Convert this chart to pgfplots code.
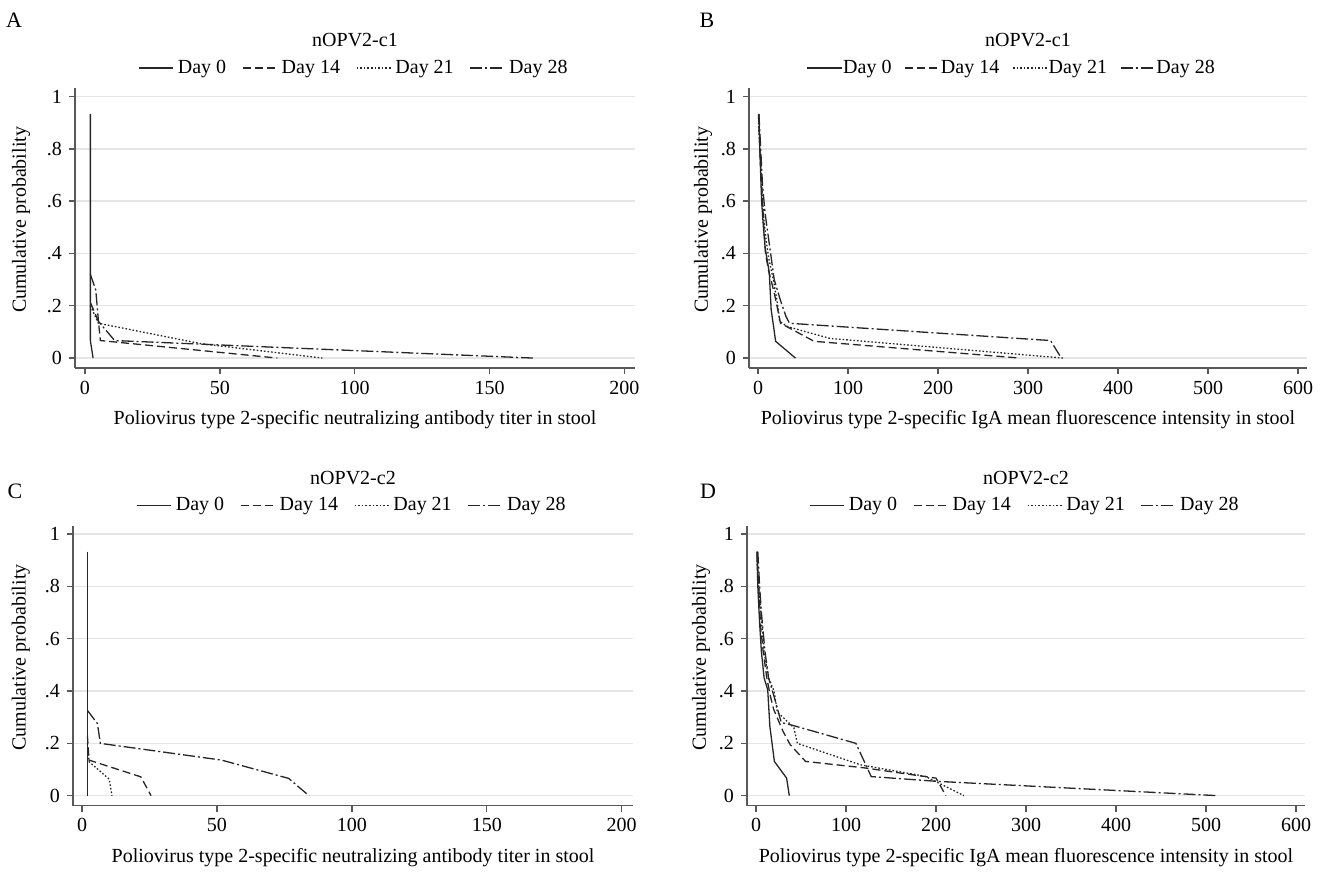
\documentclass[border=0pt]{standalone}
\usepackage{fontspec}
\setmainfont{Liberation Serif}
\usepackage{pgfplots}
\pgfplotsset{compat=1.18}

\pgfplotsset{
  panel/.style={
    scale only axis, width=280pt, height=140pt,
    anchor=south west,
    axis x line*=bottom, axis y line*=left,
    x axis line style={-, draw=black!65, line width=0.8pt},
    y axis line style={-, draw=black!65, line width=0.8pt},
    xtick pos=bottom, ytick pos=left,
    tick align=outside, major tick length=3pt,
    tick style={draw=black!65, line width=0.7pt},
    ymin=-0.038, ymax=1.0325,
    ytick={0,0.2,0.4,0.6,0.8,1}, yticklabels={0,.2,.4,.6,.8,1},
    ymajorgrids, grid style={black!10, line width=0.7pt},
    ticklabel style={font=\fontsize{10}{12}\selectfont},
    label style={font=\fontsize{10}{12}\selectfont},
    title style={font=\fontsize{10}{12}\selectfont, at={(axis description cs:0.5,1.128)}, anchor=center},
    xlabel style={at={(axis description cs:0.5,-0.186)}, anchor=center},
    ylabel={Cumulative probability},
    legend columns=4,
    legend style={draw=none, fill=none, font=\fontsize{10}{12}\selectfont,
      at={(0.5,1.071)}, anchor=center,
      /tikz/every even column/.append style={column sep=6pt}},
    every axis plot/.append style={line width=0.65pt, draw=black!85},
  },
  d0/.style={solid},
  d14/.style={dash pattern=on 4pt off 2pt},
  d21/.style={dash pattern=on 0.8pt off 1pt},
  d28/.style={dash pattern=on 6pt off 1.5pt on 1pt off 1.5pt},
  nt/.style={xmin=-3.7, xmax=203.9, xtick={0,50,100,150,200}, xticklabels={0,50,100,150,200},
    xlabel={Poliovirus type 2-specific neutralizing antibody titer in stool}},
  iga/.style={xmin=-10, xmax=610, xtick={0,100,200,300,400,500,600}, xticklabels={0,100,200,300,400,500,600},
    xlabel={Poliovirus type 2-specific IgA mean fluorescence intensity in stool}},
}

\begin{document}
\begin{tikzpicture}
\useasboundingbox (0,0) rectangle (662.5pt,437pt);

\node[font=\fontsize{11}{13}\selectfont] at (7pt,427pt) {A};
\node[font=\fontsize{11}{13}\selectfont] at (353.5pt,427pt) {B};
\node[font=\fontsize{11}{13}\selectfont] at (7.5pt,191.5pt) {C};
\node[font=\fontsize{11}{13}\selectfont] at (354pt,191.5pt) {D};

% Panel A
\begin{axis}[panel, nt, at={(37.5pt,253pt)}, title={nOPV2-c1},
  ylabel style={at={(axis description cs:-0.0964,0.529)}, anchor=center}]
\addplot[d0] coordinates {(2,0.933) (2,0.067) (3,0)};
\addlegendentry{Day 0}
\addplot[d14] coordinates {(2.1,0.21) (5,0.14) (5.7,0.067) (71.3,0)};
\addlegendentry{Day 14}
\addplot[d21] coordinates {(2,0.2) (5,0.133) (43,0.055) (88,0)};
\addlegendentry{Day 21}
\addplot[d28] coordinates {(2,0.32) (4,0.26) (5,0.14) (11,0.067) (166,0)};
\addlegendentry{Day 28}
\end{axis}

% Panel B
\begin{axis}[panel, iga, at={(374.5pt,253pt)}, width=279pt, title={nOPV2-c1},
  ylabel style={at={(axis description cs:-0.0824,0.529)}, anchor=center},
  legend style={at={(0.47,1.071)}, nodes={inner xsep=0.5pt}, /tikz/every even column/.append style={column sep=6pt}}]
\addplot[d0] coordinates {(1,0.933) (2,0.8) (3,0.7) (4,0.6) (6,0.5) (8,0.42) (12.5,0.327) (14.6,0.186) (19.6,0.064) (41.6,0)};
\addlegendentry{Day 0}
\addplot[d14] coordinates {(0.5,0.933) (2,0.8) (4,0.65) (6,0.53) (8.3,0.4) (12,0.33) (18,0.25) (21,0.2) (25,0.133) (62.4,0.064) (291,0)};
\addlegendentry{Day 14}
\addplot[d21] coordinates {(0.5,0.9) (2,0.8) (4,0.67) (6,0.55) (9,0.45) (12,0.38) (17,0.3) (22,0.2) (24,0.14) (33,0.12) (80,0.075) (339,0)};
\addlegendentry{Day 21}
\addplot[d28] coordinates {(1,0.933) (3,0.8) (5,0.66) (8,0.55) (10,0.5) (14,0.4) (18,0.3) (25,0.22) (31,0.16) (35,0.133) (325,0.067) (337,0)};
\addlegendentry{Day 28}
\end{axis}

% Panel C
\begin{axis}[panel, nt, at={(36.5pt,34.2pt)}, xmin=-3.34, xmax=204.2, title={nOPV2-c2},
  ylabel style={at={(axis description cs:-0.093,0.529)}, anchor=center}]
\addplot[d0] coordinates {(2,0.933) (2,0)};
\addlegendentry{Day 0}
\addplot[d14] coordinates {(2,0.23) (2.6,0.136) (21.8,0.072) (25.6,0)};
\addlegendentry{Day 14}
\addplot[d21] coordinates {(2,0.2) (2.6,0.13) (10.1,0.063) (11.1,0)};
\addlegendentry{Day 21}
\addplot[d28] coordinates {(2,0.326) (5.7,0.276) (6.8,0.2) (51.7,0.136) (76.6,0.066) (84.1,0)};
\addlegendentry{Day 28}
\end{axis}

% Panel D
\begin{axis}[panel, iga, at={(373.5pt,34.2pt)}, width=279pt, title={nOPV2-c2},
  ylabel style={at={(axis description cs:-0.0824,0.529)}, anchor=center}]
\addplot[d0] coordinates {(1,0.933) (2,0.8) (4,0.66) (6,0.55) (9,0.45) (13,0.405) (15.4,0.265) (20.4,0.131) (34,0.067) (37,0)};
\addlegendentry{Day 0}
\addplot[d14] coordinates {(1,0.933) (3,0.8) (5,0.65) (8,0.55) (12,0.45) (16,0.38) (19.6,0.33) (30,0.246) (38,0.195) (55,0.131) (121,0.106) (200,0.067) (211,0)};
\addlegendentry{Day 14}
\addplot[d21] coordinates {(1,0.9) (3,0.8) (6,0.67) (9,0.55) (14,0.45) (20,0.4) (23.7,0.32) (42,0.26) (46,0.2) (116,0.118) (188,0.074) (231,0)};
\addlegendentry{Day 21}
\addplot[d28] coordinates {(2,0.933) (4,0.8) (6,0.7) (10,0.55) (14,0.45) (20,0.38) (28,0.28) (41.6,0.268) (111,0.2) (128,0.073) (200,0.055) (513,0)};
\addlegendentry{Day 28}
\end{axis}
\end{tikzpicture}
\end{document}
